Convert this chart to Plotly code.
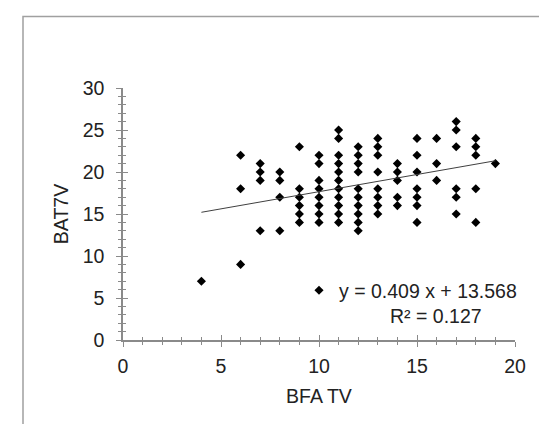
import plotly.graph_objects as go

# Data
bfa_tv = ([4] + [6]*3 + [7]*4 + [8]*4 + [9]*6 + [10]*8 + [11]*11 + [12]*10
          + [13]*8 + [14]*5 + [15]*7 + [16]*3 + [17]*6 + [18]*5 + [19])
bat7v = ([7]
         + [22, 18, 9]
         + [21, 20, 19, 13]
         + [20, 19, 17, 13]
         + [23, 18, 17, 16, 15, 14]
         + [22, 21, 19, 18, 17, 16, 15, 14]
         + [25, 24, 22, 21, 20, 19, 18, 17, 16, 15, 14]
         + [23, 22, 21, 20, 18, 17, 16, 15, 14, 13]
         + [24, 23, 22, 20, 18, 17, 16, 15]
         + [21, 20, 19, 17, 16]
         + [24, 22, 20, 18, 17, 16, 14]
         + [24, 21, 19]
         + [26, 25, 23, 18, 17, 15]
         + [24, 23, 22, 18, 14]
         + [21])

slope = 0.409
intercept = 13.568
r2 = 0.127
trend_x = [min(bfa_tv), max(bfa_tv)]
trend_y = [slope * v + intercept for v in trend_x]

x_title = "BFA TV"
y_title = "BAT7V"
eq_label = f"y = {slope} x + {intercept}"
r2_label = f"R² = {r2}"

FONT = "Liberation Sans, Arial, sans-serif"
AX = "#8a8a8a"
FS = 19.5

fig = go.Figure()
fig.add_trace(go.Scatter(
    x=bfa_tv, y=bat7v, mode="markers", name=eq_label,
    marker=dict(symbol="diamond", size=7, color="black"),
    cliponaxis=False,
))
fig.add_trace(go.Scatter(
    x=trend_x, y=trend_y, mode="lines", showlegend=False,
    line=dict(color="#404040", width=1),
))
# invisible trace for overlay axes (inside ticks)
fig.add_trace(go.Scatter(x=[None], y=[None], xaxis="x2", yaxis="y2",
                         showlegend=False, hoverinfo="skip"))

common = dict(showgrid=False, zeroline=False, showline=True, linecolor=AX,
              linewidth=1.5, tickcolor=AX, tickwidth=1.2, automargin=False)
fig.update_layout(
    width=547, height=424,
    margin=dict(l=115, r=40, t=80, b=92),
    paper_bgcolor="white", plot_bgcolor="white",
    font=dict(family=FONT, size=FS, color="#222222"),
    xaxis=dict(range=[0, 20], dtick=5, ticks="outside", ticklen=5,
               minor=dict(dtick=1, ticks="outside", ticklen=3, tickcolor=AX, tickwidth=1.2),
               ticklabelstandoff=3,
               title=dict(text=x_title, standoff=13, font=dict(size=FS)),
               **common),
    yaxis=dict(range=[0, 30], dtick=5, ticks="outside", ticklen=5,
               minor=dict(dtick=1, ticks="outside", ticklen=3, tickcolor=AX, tickwidth=1.2),
               ticklabelstandoff=8,
               title=dict(text=y_title, standoff=9, font=dict(size=FS)),
               **common),
    xaxis2=dict(range=[0, 20], dtick=5, ticks="inside", ticklen=5, overlaying="x",
                showticklabels=False,
                minor=dict(dtick=1, ticks="inside", ticklen=3, tickcolor=AX, tickwidth=1.2),
                **common),
    yaxis2=dict(range=[0, 30], dtick=5, ticks="inside", ticklen=5, overlaying="y",
                showticklabels=False,
                minor=dict(dtick=1, ticks="inside", ticklen=3, tickcolor=AX, tickwidth=1.2),
                **common),
    showlegend=True,
    legend=dict(x=0.449, y=0.196, xanchor="left", yanchor="middle",
                bgcolor="rgba(0,0,0,0)", font=dict(size=FS, family=FONT),
                itemwidth=30),
    annotations=[dict(text=r2_label, xref="paper", yref="paper", x=0.798, y=0.097,
                      xanchor="center", yanchor="middle", showarrow=False,
                      font=dict(size=FS, family=FONT))],
    shapes=[dict(type="rect", xref="paper", yref="paper",
                 x0=(15 - 115) / 392, x1=(544 - 115) / 392,
                 y0=-0.45, y1=(332.5 - 9) / 252,
                 line=dict(color="#a0a0a0", width=1.5), layer="below")],
)

fig.write_html("out.html")
